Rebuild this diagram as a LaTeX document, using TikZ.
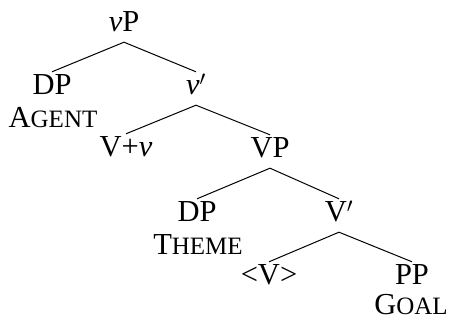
\documentclass[tikz,border=0pt]{standalone}
\usepackage{fontspec}
\setmainfont{Liberation Serif}
\newcommand\smc[1]{{\fontsize{25}{28}\selectfont #1}}
\begin{document}
\begin{tikzpicture}[x=1pt,y=1pt,
  lab/.style={font=\fontsize{30.5}{36}\selectfont, inner xsep=0pt, inner ysep=3pt,
    text height=20pt, text depth=7pt, anchor=base},
  role/.style={font=\fontsize{30.5}{36}\selectfont, inner sep=0pt, anchor=base},
  edge/.style={line width=1pt}]
\useasboundingbox (0,0) rectangle (451,321);
\node[lab] (vP) at (124,289) {\textit{v}P};
\node[lab] (DP1) at (52,226) {DP};
\node[role] (ag) at (53,193) {A\smc{GENT}};
\node[lab] (vbar) at (196,226) {\textit{v}$'$};
\node[lab] (Vv) at (126,164) {V+\textit{v}};
\node[lab] (VP) at (270,163) {VP};
\node[lab] (DP2) at (197,99) {DP};
\node[role] (th) at (198,66) {T\smc{HEME}};
\node[lab] (Vbar) at (339,99) {V$'$};
\node[lab] (Vt) at (269,36) {<V>};
\node[lab] (PP) at (412,36) {PP};
\node[role] (go) at (411,6) {G\smc{OAL}};
\draw[edge] (DP1.north) -- (vP.south) -- (vbar.north);
\draw[edge] (Vv.north) -- (vbar.south) -- (VP.north);
\draw[edge] (DP2.north) -- (VP.south) -- (Vbar.north);
\draw[edge] (Vt.north) -- (Vbar.south) -- (PP.north);
\end{tikzpicture}
\end{document}
